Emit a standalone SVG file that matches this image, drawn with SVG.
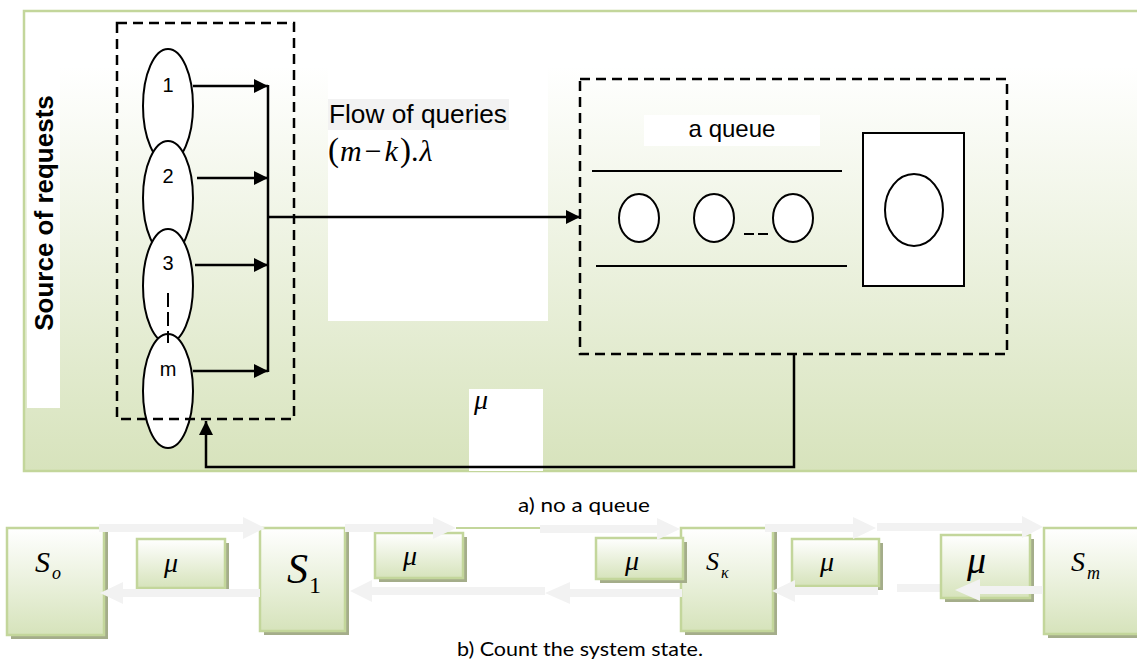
<svg xmlns="http://www.w3.org/2000/svg" width="1137" height="662" viewBox="0 0 1137 662">
<defs>
<linearGradient id="panelG" x1="0" y1="0" x2="0" y2="1">
<stop offset="0" stop-color="#ffffff"/>
<stop offset="0.12" stop-color="#ffffff"/>
<stop offset="1" stop-color="#d7e3bc"/>
</linearGradient>
<linearGradient id="boxG" x1="0" y1="0" x2="0" y2="1">
<stop offset="0" stop-color="#ffffff"/>
<stop offset="1" stop-color="#d6e3bb"/>
</linearGradient>
<marker id="ah" viewBox="0 0 14 14" refX="14" refY="7" markerWidth="14" markerHeight="14" markerUnits="userSpaceOnUse" orient="auto">
<path d="M0,0 L14,7 L0,14 z" fill="#000"/>
</marker>
<style>
.dash{fill:none;stroke:#000;stroke-width:2.5;stroke-dasharray:10 6}
.conn{fill:none;stroke:#000;stroke-width:2.5}
.el{fill:#fff;stroke:#000;stroke-width:2}
.sans{font-family:"Liberation Sans",Arial,sans-serif;fill:#000}
.cal{font-family:Lato,"Liberation Sans",sans-serif;fill:#000}
.math{font-family:"Liberation Serif","Times New Roman",serif;fill:#000}
.it{font-style:italic}
.gbox{fill:url(#boxG);stroke:#c3d69b;stroke-width:2.5}
.shadow{fill:#a4ad8a}
.garrow{fill:#f2f2f2}
</style>
</defs>
<rect width="1137" height="662" fill="#ffffff"/>

<!-- upper panel -->
<g id="panel">
<rect x="24" y="11" width="1130" height="460" fill="url(#panelG)" stroke="#c3d69b" stroke-width="2.5"/>
<rect x="27" y="65" width="33" height="343" fill="#ffffff"/>
<text class="sans" font-size="26" font-weight="bold" text-anchor="middle" transform="translate(53,213) rotate(-90)">Source of requests</text>
<rect x="328" y="68" width="220" height="253" fill="#ffffff"/>
<rect x="469" y="389" width="74" height="82" fill="#ffffff"/>
</g>

<g id="flow-label">
<rect x="328" y="99" width="181" height="31" fill="#f2f2f2"/>
<text class="sans" x="329" y="123" font-size="26" textLength="178" lengthAdjust="spacingAndGlyphs" fill="#222">Flow of queries</text>
<text class="math" x="328" y="161" font-size="30"><tspan font-size="33">(</tspan><tspan class="it" dx="1">m</tspan><tspan dx="3">−</tspan><tspan class="it" dx="3">k</tspan><tspan font-size="33" dx="2">)</tspan><tspan>.</tspan><tspan class="it" dx="1">λ</tspan></text>
</g>

<g id="mu-feedback-label">
<text class="math it" x="474" y="409" font-size="28">μ</text>
</g>

<!-- source of requests -->
<g id="source">
<ellipse class="el" cx="168" cy="106" rx="25" ry="57"/>
<ellipse class="el" cx="168" cy="198" rx="25" ry="57"/>
<ellipse class="el" cx="168" cy="286" rx="25" ry="57"/>
<ellipse class="el" cx="168" cy="391" rx="25" ry="57"/>
<line x1="168" y1="293" x2="168" y2="343" stroke="#000" stroke-width="2" stroke-dasharray="14 5"/>
<text class="sans" x="168" y="92" font-size="20" text-anchor="middle">1</text>
<text class="sans" x="168" y="183" font-size="20" text-anchor="middle">2</text>
<text class="sans" x="168" y="270" font-size="20" text-anchor="middle">3</text>
<text class="sans" x="168" y="376" font-size="20" text-anchor="middle">m</text>
<rect class="dash" x="117" y="23" width="177" height="396"/>
</g>

<!-- queueing system -->
<g id="system">
<rect class="dash" x="580" y="79" width="427" height="275"/>
<rect x="644" y="115" width="176" height="31" fill="#ffffff"/>
<text class="sans" x="732" y="137" font-size="24" text-anchor="middle">a queue</text>
<line x1="592" y1="171" x2="842" y2="171" stroke="#000" stroke-width="2"/>
<line x1="596" y1="266" x2="847" y2="266" stroke="#000" stroke-width="2"/>
<ellipse class="el" cx="639" cy="218" rx="20" ry="24"/>
<ellipse class="el" cx="714" cy="218" rx="20" ry="24"/>
<ellipse class="el" cx="793" cy="218" rx="20" ry="24"/>
<line x1="744" y1="234" x2="768" y2="234" stroke="#000" stroke-width="2" stroke-dasharray="10 4"/>
<rect x="863" y="133" width="101" height="153" fill="#ffffff" stroke="#000" stroke-width="2"/>
<ellipse class="el" cx="914" cy="210" rx="29" ry="36"/>
</g>

<!-- connectors -->
<g id="connectors">
<line class="conn" x1="193" y1="86" x2="268" y2="86" marker-end="url(#ah)"/>
<line class="conn" x1="197" y1="178" x2="268" y2="178" marker-end="url(#ah)"/>
<line class="conn" x1="195" y1="265" x2="268" y2="265" marker-end="url(#ah)"/>
<line class="conn" x1="193" y1="371" x2="268" y2="371" marker-end="url(#ah)"/>
<line class="conn" x1="268" y1="85" x2="268" y2="372"/>
<line class="conn" x1="268" y1="217" x2="580" y2="217" marker-end="url(#ah)"/>
<polyline class="conn" points="794,354 794,467 206,467 206,421" marker-end="url(#ah)"/>
</g>

<text class="cal" x="518" y="512" font-size="20" textLength="132" lengthAdjust="spacingAndGlyphs">a) no a queue</text>

<!-- state graph -->
<g id="state-S0">
<rect class="shadow" x="11" y="532" width="97" height="107"/>
<rect class="gbox" x="7" y="528" width="97" height="107"/>
<text class="math it" x="35" y="572" font-size="30">S<tspan font-size="18" dx="2" dy="7">o</tspan></text>
</g>
<g id="state-S1">
<rect class="shadow" x="264" y="532" width="85" height="103"/>
<rect class="gbox" x="260" y="528" width="85" height="103"/>
<text class="math" x="287" y="583" font-size="42"><tspan class="it">S</tspan><tspan font-size="24" dx="1" dy="10">1</tspan></text>
</g>
<g id="state-Sk">
<rect class="shadow" x="685" y="532" width="92" height="103"/>
<rect class="gbox" x="681" y="528" width="92" height="103"/>
<text class="math it" x="706" y="570" font-size="26">S<tspan font-size="16" dx="2" dy="8">κ</tspan></text>
</g>
<g id="state-Sm">
<rect class="shadow" x="1048" y="532" width="100" height="106"/>
<rect class="gbox" x="1044" y="528" width="100" height="106"/>
<text class="math it" x="1071" y="571" font-size="28">S<tspan font-size="18" dx="2" dy="8">m</tspan></text>
</g>

<g id="mu-1">
<rect class="shadow" x="141" y="543" width="88" height="49"/>
<rect class="gbox" x="137" y="539" width="88" height="49"/>
<text class="math it" x="164" y="572" font-size="28">μ</text>
</g>
<g id="mu-2">
<rect class="shadow" x="379" y="537" width="88" height="45"/>
<rect class="gbox" x="375" y="533" width="88" height="45"/>
<text class="math it" x="403" y="565" font-size="28">μ</text>
</g>
<g id="mu-3">
<rect class="shadow" x="600" y="542" width="87" height="41"/>
<rect class="gbox" x="596" y="538" width="87" height="41"/>
<text class="math it" x="625" y="570" font-size="28">μ</text>
</g>
<g id="mu-4">
<rect class="shadow" x="796" y="543" width="87" height="47"/>
<rect class="gbox" x="792" y="539" width="87" height="47"/>
<text class="math it" x="820" y="571" font-size="28">μ</text>
</g>
<rect class="garrow" x="897" y="584" width="60" height="8"/>
<g id="mu-5">
<rect class="shadow" x="945" y="539" width="89" height="63"/>
<rect class="gbox" x="941" y="535" width="89" height="63"/>
<text class="math it" x="967" y="573" font-size="38">μ</text>
</g>

<g id="state-connectors">
<polygon class="garrow" points="99,524 243,524 243,517 265,528 243,539 243,532 99,532"/>
<polygon class="garrow" points="345,524 433,524 433,517 456,528 433,539 433,532 345,532"/>
<line x1="456" y1="528" x2="540" y2="528" stroke="#c3d69b" stroke-width="2"/>
<polygon class="garrow" points="540,525 657,525 657,518 680,529 657,540 657,533 540,533"/>
<polygon class="garrow" points="765,524 853,524 853,517 876,528 853,539 853,532 765,532"/>
<polygon class="garrow" points="877,523 1022,523 1022,516 1043,527 1022,538 1022,531 877,531"/>
<polygon class="garrow" points="260,589 123,589 123,582 100,593 123,604 123,597 260,597"/>
<polygon class="garrow" points="545,587 372,587 372,580 350,591 372,602 372,595 545,595"/>
<polygon class="garrow" points="682,589 570,589 570,582 545,593 570,604 570,597 682,597"/>
<polygon class="garrow" points="878,587 795,587 795,580 772,591 795,602 795,595 878,595"/>
<polygon class="garrow" points="1043,586 980,586 980,579 955,590 980,601 980,594 1043,594"/>
</g>

<text class="cal" x="457" y="656" font-size="20" textLength="246" lengthAdjust="spacingAndGlyphs">b) Count the system state.</text>
</svg>
